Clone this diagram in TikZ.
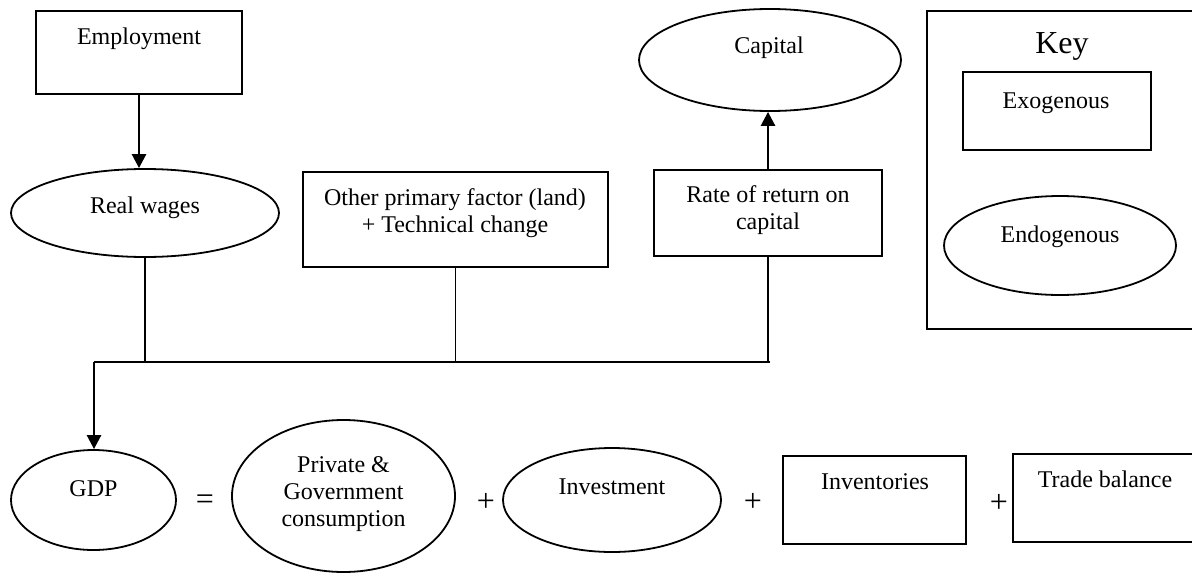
\documentclass[tikz,border=0pt]{standalone}
\usepackage{fontspec}
\setmainfont{Liberation Serif}
\usetikzlibrary{shapes.geometric,arrows.meta}

\tikzset{
  boxnode/.style={draw, line width=0.9pt, rectangle, inner sep=0pt},
  ovalnode/.style={draw, line width=0.9pt, ellipse, inner sep=0pt},
  lbl/.style={anchor=base, inner sep=0pt, font=\fontsize{12pt}{13.5pt}\selectfont},
  sym/.style={anchor=center, inner sep=0pt, font=\fontsize{16pt}{18pt}\selectfont},
  wire/.style={line width=0.9pt},
  flow/.style={line width=1.3pt, -{Triangle[length=7pt,width=7pt]}},
}

\begin{document}
\begin{tikzpicture}[x=0.5pt, y=-0.5pt]
\clip (0,0) rectangle (1192,573);
\fill[white] (0,0) rectangle (1192,573);

% factor markets
\node[boxnode, minimum width=103pt, minimum height=41.5pt] (emp) at (139,52.5) {};
\node[lbl] (empT) at (139,44) {Employment};

\node[ovalnode, minimum width=134pt, minimum height=44pt] (rw) at (145,213) {};
\node[lbl] (rwT) at (145,213) {Real wages};

\node[boxnode, minimum width=152.5pt, minimum height=47.5pt] (oth) at (455.5,219.5) {};
\node[lbl] (othT1) at (455,205) {Other primary factor (land)};
\node[lbl] (othT2) at (455,232) {+ Technical change};

\node[boxnode, minimum width=114pt, minimum height=43pt] (ror) at (768,213) {};
\node[lbl] (rorT1) at (768,202) {Rate of return on};
\node[lbl] (rorT2) at (768,229) {capital};

\node[ovalnode, minimum width=131pt, minimum height=51pt] (cap) at (770,60) {};
\node[lbl] (capT) at (769,53) {Capital};

% legend
\node[boxnode, minimum width=134.5pt, minimum height=159pt] (key) at (1061.5,170) {};
\node[lbl, font=\fontsize{16pt}{19pt}\selectfont] (keyT) at (1062,53) {Key};
\node[boxnode, minimum width=94pt, minimum height=39pt] (exo) at (1057,111) {};
\node[lbl] (exoT) at (1056,108) {Exogenous};
\node[ovalnode, minimum width=116pt, minimum height=49.5pt] (endo) at (1060,245.5) {};
\node[lbl] (endoT) at (1060,242) {Endogenous};

% expenditure identity
\node[ovalnode, minimum width=82.5pt, minimum height=50pt] (gdp) at (93.5,500) {};
\node[lbl] (gdpT) at (93.5,496) {GDP};
\node[sym] (eq) at (205,502) {=};

\node[ovalnode, minimum width=111.5pt, minimum height=76pt] (cons) at (343.5,496) {};
\node[lbl] (consT1) at (343.5,472) {Private \&};
\node[lbl] (consT2) at (343.5,499) {Government};
\node[lbl] (consT3) at (343.5,526) {consumption};
\node[sym] (p1) at (486,502) {+};

\node[ovalnode, minimum width=109pt, minimum height=52pt] (inv) at (612,500) {};
\node[lbl] (invT) at (612,494) {Investment};
\node[sym] (p2) at (753,502) {+};

\node[boxnode, minimum width=91.5pt, minimum height=44pt] (stk) at (874.5,500) {};
\node[lbl] (stkT) at (875,489) {Inventories};
\node[sym] (p3) at (999,503) {+};

\node[boxnode, minimum width=91.5pt, minimum height=44pt] (tb) at (1104.5,498) {};
\node[lbl] (tbT) at (1105,487) {Trade balance};

% connectors
\coordinate (busL) at (94,362);
\coordinate (busR) at (770,362);

\draw[flow] (emp.south) -- (emp.south |- rw.north);
\draw[flow] (ror.north) -- (ror.north |- cap.south);

\draw[wire] (rw.south) -- (rw.south |- busL);
\draw[wire] (oth.south) -- (oth.south |- busL);
\draw[wire] (ror.south) -- (ror.south |- busL);
\draw[wire] (busL) -- (busR);
\draw[flow] (busL) -- (busL |- gdp.north);
\end{tikzpicture}
\end{document}
